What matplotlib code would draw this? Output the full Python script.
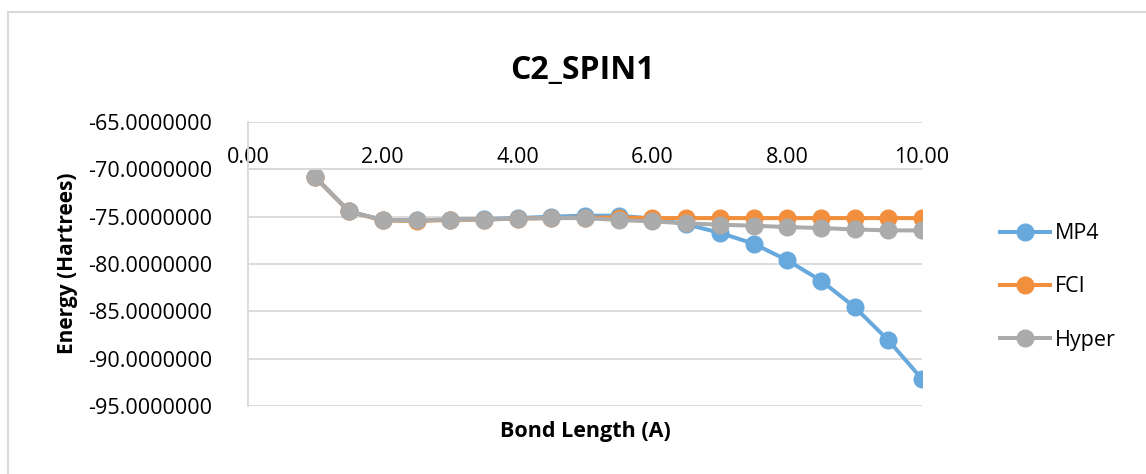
import matplotlib
matplotlib.use("Agg")
import matplotlib.pyplot as plt
from matplotlib.ticker import FormatStrFormatter
from matplotlib.lines import Line2D

plt.rcParams['font.family'] = ['Open Sans', 'DejaVu Sans']

# bond lengths (A)
bond_length = [1.0, 1.5, 2.0, 2.5, 3.0, 3.5, 4.0, 4.5, 5.0, 5.5,
               6.0, 6.5, 7.0, 7.5, 8.0, 8.5, 9.0, 9.5, 10.0]

# energies (Hartrees)
mp4 = [-70.85, -74.45, -75.35, -75.40, -75.30, -75.25, -75.15, -75.00, -74.90, -74.90,
       -75.20, -75.80, -76.70, -77.85, -79.60, -81.75, -84.55, -88.05, -92.15]
fci = [-70.85, -74.45, -75.40, -75.45, -75.35, -75.30, -75.20, -75.15, -75.10, -75.10,
       -75.15, -75.15, -75.15, -75.15, -75.15, -75.15, -75.15, -75.15, -75.15]
hyper = [-70.85, -74.45, -75.35, -75.40, -75.30, -75.30, -75.20, -75.15, -75.15, -75.35,
         -75.50, -75.70, -75.85, -75.95, -76.10, -76.20, -76.35, -76.45, -76.45]

series = [("MP4", mp4, "#68A9DD"), ("FCI", fci, "#F28F3D"), ("Hyper", hyper, "#ABABAB")]

W, H = 1146, 474
fig = plt.figure(figsize=(W / 100, H / 100), dpi=100)
ax = fig.add_axes([248 / W, 1 - 406 / H, (922 - 248) / W, (406 - 122) / H])

for name, vals, col in series:
    ax.plot(bond_length, vals, color=col, lw=2.9, marker='o', ms=12, label=name)

ax.set_xlim(0, 10)
ax.set_ylim(-95, -65)
ax.set_yticks([-95, -90, -85, -80, -75, -70, -65])
ax.set_xticks([0, 2, 4, 6, 8, 10])
ax.yaxis.set_major_formatter(FormatStrFormatter('%.7f'))
ax.xaxis.set_major_formatter(FormatStrFormatter('%.2f'))

ax.grid(axis='y', color='#D9D9D9', lw=1.3)
ax.set_axisbelow(True)

# x axis crosses at -70, labels above it
ax.xaxis.tick_top()
ax.spines['top'].set_position(('data', -70))
ax.spines['top'].set_color('#D9D9D9')
ax.spines['top'].set_linewidth(1.3)
ax.spines['bottom'].set_visible(False)
ax.spines['right'].set_visible(False)
ax.spines['left'].set_color('#D9D9D9')
ax.spines['left'].set_linewidth(1.3)
ax.tick_params(axis='both', length=0, labelsize=15.5, colors='#000000')
ax.tick_params(axis='y', pad=26)
ax.tick_params(axis='x', pad=1)

fig.text(582 / W, 1 - 70 / H, "C2_SPIN1", ha='center', va='center',
         fontsize=23, fontweight='bold')
fig.text(585 / W, 1 - 431 / H, "Bond Length (A)", ha='center', va='center',
         fontsize=15.5, fontweight='bold')
fig.text(68 / W, 1 - 263 / H, "Energy (Hartrees)", ha='center', va='center',
         rotation=90, fontsize=15, fontweight='bold')

ax.legend(loc='center left', bbox_to_anchor=(1000 / W, 1 - 287 / H),
          bbox_transform=fig.transFigure, frameon=False, fontsize=15.5,
          handlelength=2.3, handletextpad=0.25, labelspacing=1.5,
          borderpad=0, borderaxespad=0)

# chart area border (left and top visible)
fig.add_artist(Line2D([7.5 / W, 7.5 / W], [0, 1 - 12 / H], color='#D9D9D9', lw=1.5))
fig.add_artist(Line2D([7.5 / W, 1], [1 - 12 / H, 1 - 12 / H], color='#D9D9D9', lw=1.5))

fig.savefig("out.png", dpi=100)
